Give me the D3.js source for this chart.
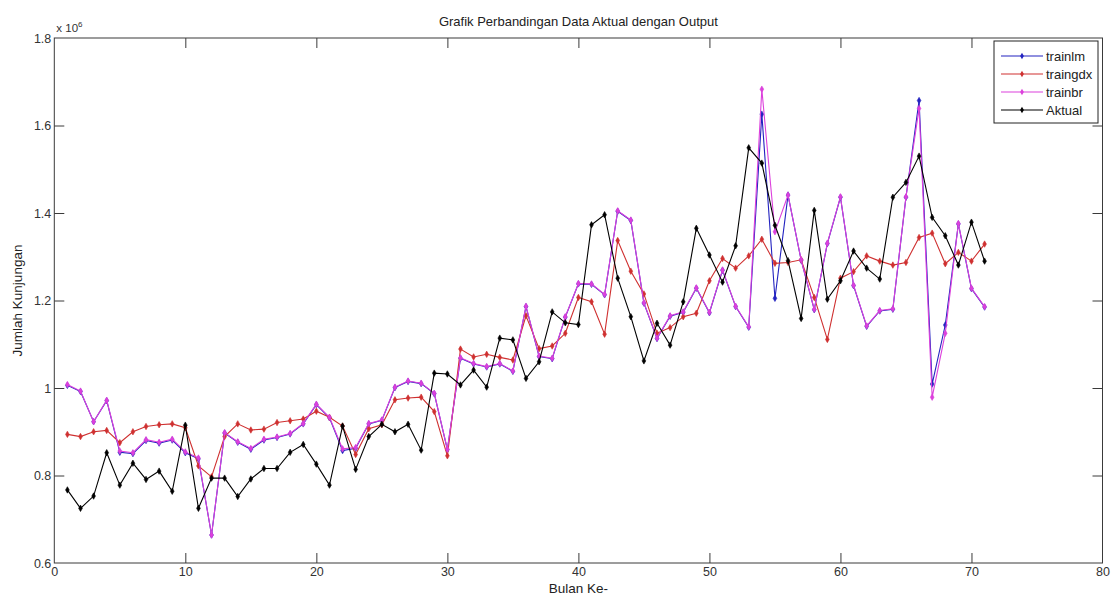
<!DOCTYPE html>
<html>
<head>
<meta charset="utf-8">
<script src="https://cdn.jsdelivr.net/npm/d3@7"></script>
<style>
	body { margin: 0; background: #fff; }
	svg { display: block; font-family: "Liberation Sans", Arial, sans-serif; }
</style>
</head>
<body>
<div id="chart"></div>
<script>

	// values are in units of 10^6 (shown as "x 10^6" on the axis)
	var bulan = d3.range(1, 72);

	var aktual = [0.767,0.725,0.753,0.852,0.778,0.828,0.791,0.810,0.764,0.915,
		0.725,0.794,0.794,0.752,0.792,0.816,0.816,0.853,0.871,0.826,
		0.778,0.913,0.814,0.889,0.917,0.900,0.917,0.858,1.034,1.032,
		1.007,1.041,1.002,1.114,1.110,1.022,1.060,1.174,1.149,1.145,
		1.373,1.396,1.251,1.163,1.062,1.148,1.098,1.197,1.365,1.304,
		1.242,1.325,1.549,1.514,1.372,1.291,1.159,1.406,1.203,1.245,
		1.313,1.274,1.249,1.436,1.470,1.530,1.390,1.348,1.281,1.379,
		1.290];

	var traingdx = [0.894,0.889,0.900,0.903,0.875,0.900,0.912,0.916,0.918,0.909,
		0.822,0.797,0.889,0.918,0.904,0.906,0.921,0.925,0.929,0.947,
		0.933,0.913,0.848,0.907,0.916,0.973,0.977,0.979,0.946,0.845,
		1.089,1.071,1.077,1.070,1.064,1.165,1.090,1.096,1.125,1.207,
		1.197,1.123,1.337,1.267,1.215,1.125,1.138,1.163,1.171,1.245,
		1.296,1.274,1.302,1.340,1.285,1.287,1.293,1.207,1.111,1.251,
		1.266,1.302,1.290,1.281,1.287,1.344,1.354,1.284,1.310,1.290,
		1.329];

	var trainbr = [1.008,0.993,0.923,0.972,0.856,0.852,0.882,0.876,0.883,0.854,
		0.840,0.664,0.898,0.877,0.862,0.883,0.888,0.896,0.919,0.963,
		0.933,0.861,0.864,0.919,0.927,1.002,1.016,1.011,0.988,0.860,
		1.069,1.056,1.049,1.056,1.039,1.187,1.073,1.068,1.163,1.239,
		1.238,1.214,1.405,1.384,1.195,1.114,1.165,1.174,1.229,1.173,
		1.270,1.187,1.140,1.683,1.357,1.441,1.293,1.180,1.331,1.437,
		1.235,1.142,1.177,1.181,1.437,1.639,0.979,1.125,1.376,1.228,
		1.186];

	var trainlm = [1.006,0.992,0.923,0.971,0.853,0.850,0.880,0.874,0.881,0.852,
		0.838,0.664,0.897,0.876,0.860,0.881,0.887,0.895,0.918,0.962,
		0.932,0.857,0.862,0.918,0.926,1.001,1.015,1.010,0.987,0.859,
		1.068,1.055,1.048,1.055,1.038,1.186,1.072,1.067,1.162,1.238,
		1.237,1.213,1.404,1.383,1.194,1.113,1.164,1.173,1.228,1.172,
		1.269,1.186,1.139,1.626,1.205,1.441,1.292,1.179,1.330,1.436,
		1.234,1.141,1.176,1.180,1.436,1.657,1.009,1.144,1.375,1.227,
		1.185];

	var seriesNames = ["trainlm", "traingdx", "trainbr", "Aktual"];
	var xTicks = [0, 10, 20, 30, 40, 50, 60, 70, 80];
	var yTicks = [0.6, 0.8, 1.0, 1.2, 1.4, 1.6, 1.8];

	var W = 1111, H = 596;
	var plotLeft = 54.3, plotRight = 1102.5, plotTop = 38, plotBottom = 563;

	var svg = d3.select("#chart").append("svg")
		.attr("width", W)
		.attr("height", H);

	var x = d3.scaleLinear().domain([0, 80]).range([plotLeft, plotRight]);
	var y = d3.scaleLinear().domain([0.6, 1.8]).range([plotBottom, plotTop]);

	var colors = {
		"trainlm": "#2323c0",
		"traingdx": "#cf3030",
		"trainbr": "#dc40dc",
		"Aktual": "#000000"
	};
	var dataByName = {
		"trainlm": trainlm,
		"traingdx": traingdx,
		"trainbr": trainbr,
		"Aktual": aktual
	};

	var axisColor = "#3a3a3a";
	var tickLen = 10;

	// plot box
	svg.append("rect")
		.attr("x", plotLeft)
		.attr("y", plotTop)
		.attr("width", plotRight - plotLeft)
		.attr("height", plotBottom - plotTop)
		.attr("fill", "#fff")
		.attr("stroke", axisColor)
		.attr("stroke-width", 1);

	// axes with inward ticks on all four sides
	var xAxisB = d3.axisBottom(x).tickValues(xTicks).tickSize(-tickLen).tickPadding(4).tickFormat(d3.format("d"));
	var xAxisT = d3.axisTop(x).tickValues(xTicks).tickSize(-tickLen).tickFormat("");
	var yAxisL = d3.axisLeft(y).tickValues(yTicks).tickSize(-tickLen).tickPadding(3)
		.tickFormat(function(d) { return d == 1 ? "1" : d3.format(".1f")(d); });
	var yAxisR = d3.axisRight(y).tickValues(yTicks).tickSize(-tickLen).tickFormat("");

	function styleAxis(g)
	{
		g.select(".domain").remove();
		g.selectAll(".tick line").attr("stroke", axisColor);
		g.selectAll(".tick text")
			.attr("fill", "#333")
			.style("font-size", "12.5px")
			.style("font-family", "\"Liberation Sans\", Arial, sans-serif");
	}

	svg.append("g").attr("transform", "translate(0," + plotBottom + ")").call(xAxisB).call(styleAxis);
	svg.append("g").attr("transform", "translate(0," + plotTop + ")").call(xAxisT).call(styleAxis);
	svg.append("g").attr("transform", "translate(" + plotLeft + ",0)").call(yAxisL).call(styleAxis);
	svg.append("g").attr("transform", "translate(" + plotRight + ",0)").call(yAxisR).call(styleAxis);

	// drop the end ticks that sit on the box corners
	svg.selectAll(".tick").filter(function(d) { return d == 0 || d == 80 || d == 0.6 || d == 1.8; })
		.select("line").remove();

	// exponent label
	var expo = svg.append("text")
		.attr("x", plotLeft + 2)
		.attr("y", plotTop - 6)
		.attr("fill", "#333")
		.style("font-size", "11.5px");
	expo.append("tspan").text("x 10");
	expo.append("tspan").attr("dy", -5).style("font-size", "8px").text("6");

	// series
	var line = d3.line()
		.x(function(d, i) { return x(bulan[i]); })
		.y(function(d) { return y(d); });

	var marker = d3.symbol().type(d3.symbolDiamond).size(12);

	for (var s = 0; s < seriesNames.length; s++)
	{
		var name = seriesNames[s];
		var vals = dataByName[name];

		svg.append("path")
			.datum(vals)
			.attr("fill", "none")
			.attr("stroke", colors[name])
			.attr("stroke-width", 1.1)
			.attr("d", line);

		svg.append("g").selectAll("path")
			.data(vals)
			.enter().append("path")
			.attr("transform", function(d, i) { return "translate(" + x(bulan[i]) + "," + y(d) + ")"; })
			.attr("d", marker)
			.attr("fill", colors[name])
			.attr("stroke", colors[name])
			.attr("stroke-width", 0.6);
	}

	// title and axis labels
	svg.append("text")
		.attr("x", (plotLeft + plotRight) / 2)
		.attr("y", 26)
		.attr("text-anchor", "middle")
		.attr("fill", "#222")
		.style("font-size", "13px")
		.text("Grafik Perbandingan Data Aktual dengan Output");

	svg.append("text")
		.attr("x", (plotLeft + plotRight) / 2)
		.attr("y", 593)
		.attr("text-anchor", "middle")
		.attr("fill", "#222")
		.style("font-size", "13.5px")
		.text("Bulan Ke-");

	svg.append("text")
		.attr("transform", "translate(22," + ((plotTop + plotBottom) / 2) + ") rotate(-90)")
		.attr("text-anchor", "middle")
		.attr("fill", "#222")
		.style("font-size", "13.5px")
		.text("Jumlah Kunjungan");

	// legend
	var lgX = 994, lgY = 41, lgW = 104, lgH = 82;
	var legend = svg.append("g");

	legend.append("rect")
		.attr("x", lgX)
		.attr("y", lgY)
		.attr("width", lgW)
		.attr("height", lgH)
		.attr("fill", "#fff")
		.attr("stroke", "#222")
		.attr("stroke-width", 1);

	for (var k = 0; k < seriesNames.length; k++)
	{
		var nm = seriesNames[k];
		var ly = lgY + 15 + k * 18;

		legend.append("line")
			.attr("x1", lgX + 7)
			.attr("x2", lgX + 49)
			.attr("y1", ly)
			.attr("y2", ly)
			.attr("stroke", colors[nm])
			.attr("stroke-width", 1.1);

		legend.append("path")
			.attr("transform", "translate(" + (lgX + 28) + "," + ly + ")")
			.attr("d", marker)
			.attr("fill", colors[nm]);

		legend.append("text")
			.attr("x", lgX + 52)
			.attr("y", ly + 4.5)
			.attr("fill", "#222")
			.style("font-size", "13px")
			.text(nm);
	}

</script>
</body>
</html>
